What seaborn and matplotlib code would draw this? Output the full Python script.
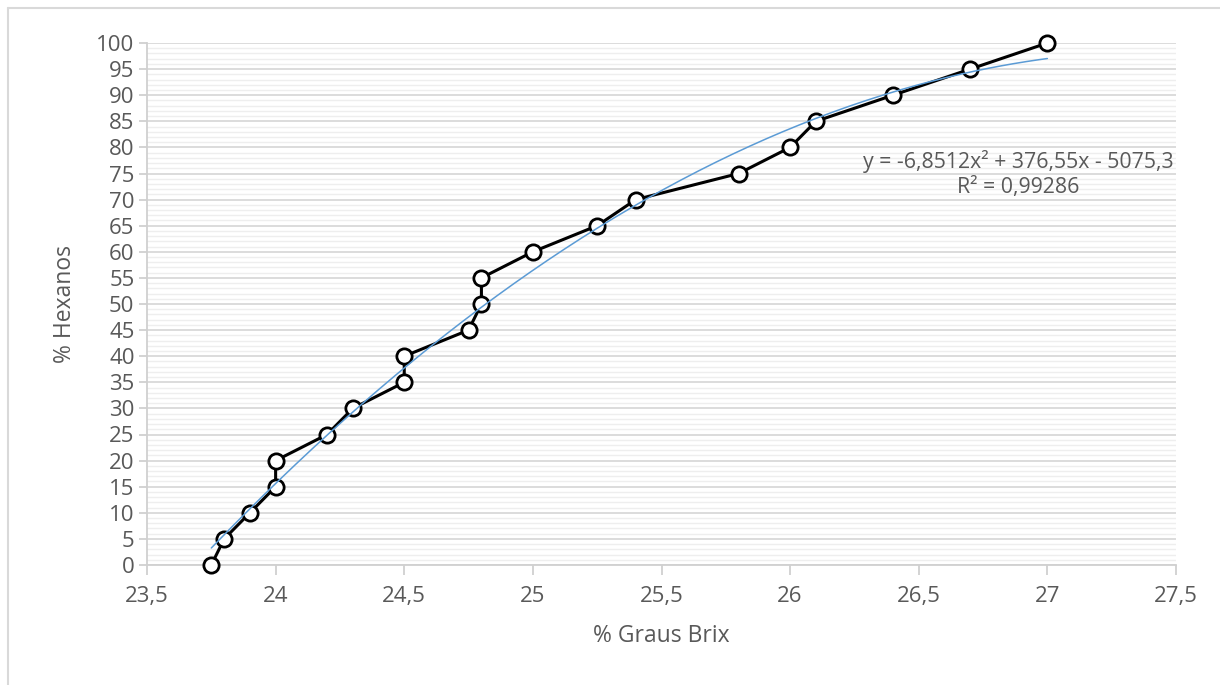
import numpy as np
import pandas as pd
import matplotlib
matplotlib.use("Agg")
import matplotlib.pyplot as plt
from matplotlib.ticker import MultipleLocator, FuncFormatter
from matplotlib.lines import Line2D
import seaborn as sns

# Measured points: sugar content (°Brix) vs. hexane fraction
brix = [23.75, 23.8, 23.9, 24.0, 24.0, 24.2, 24.3, 24.5, 24.5, 24.75, 24.8,
        24.8, 25.0, 25.25, 25.4, 25.8, 26.0, 26.1, 26.4, 26.7, 27.0]
hexanos = [0, 5, 10, 15, 20, 25, 30, 35, 40, 45, 50,
           55, 60, 65, 70, 75, 80, 85, 90, 95, 100]

# Second-order polynomial trend line coefficients
coef_a, coef_b, coef_c = -6.8512, 376.55, -5075.3
r_squared = "0,99286"

x_ticks = [23.5, 24, 24.5, 25, 25.5, 26, 26.5, 27, 27.5]
y_ticks = list(range(0, 101, 5))

sns.set_theme(style="white")
plt.rcParams["font.family"] = ["Open Sans", "DejaVu Sans"]

text_color = "#595959"
grid_major = "#d9d9d9"
grid_minor = "#eeeeee"

df = pd.DataFrame({"brix": brix, "hexanos": hexanos})
xt = np.linspace(min(brix), max(brix), 200)
trend = pd.DataFrame({"brix": xt, "hexanos": coef_a * xt**2 + coef_b * xt + coef_c})

fig = plt.figure(figsize=(12.2, 6.85), dpi=100)
ax = fig.add_axes([147 / 1220, 1 - 565 / 685, (1176 - 147) / 1220, (565 - 43) / 685])

sns.lineplot(data=df, x="brix", y="hexanos", ax=ax, estimator=None, sort=False,
             color="black", linewidth=2.2, marker="o", markersize=11,
             markerfacecolor="white", markeredgecolor="black", markeredgewidth=2,
             zorder=4, clip_on=False)
sns.lineplot(data=trend, x="brix", y="hexanos", ax=ax, estimator=None, sort=False,
             color="#5b9bd5", linewidth=1.1, zorder=5, clip_on=False)

ax.set_xlim(x_ticks[0], x_ticks[-1])
ax.set_ylim(0, 100)
ax.set_xticks(x_ticks)
ax.set_yticks(y_ticks)
ax.yaxis.set_minor_locator(MultipleLocator(1))
ax.xaxis.set_major_formatter(FuncFormatter(lambda v, p: f"{v:g}".replace(".", ",")))

ax.grid(which="major", axis="y", color=grid_major, linewidth=1.3, zorder=1)
ax.grid(which="minor", axis="y", color=grid_minor, linewidth=1.0, zorder=0)
ax.grid(which="both", axis="x", visible=False)
ax.set_axisbelow(True)

for side in ("top", "right"):
    ax.spines[side].set_visible(False)
for side in ("left", "bottom"):
    ax.spines[side].set_color("#d0d0d0")
    ax.spines[side].set_linewidth(1.3)

ax.tick_params(axis="both", which="major", colors="#d0d0d0", labelcolor=text_color,
               labelsize=16, width=1.3)
ax.tick_params(axis="y", which="major", direction="out", length=6, left=True, pad=3)
ax.tick_params(axis="x", which="major", direction="out", length=7, bottom=True, pad=8)
ax.tick_params(axis="y", which="minor", length=0)

ax.set_xlabel("% Graus Brix", fontsize=16.5, color=text_color, labelpad=12)
ax.set_ylabel("% Hexanos", fontsize=16.5, color=text_color, labelpad=14)

eq = (f"y = {coef_a:g}x² + {coef_b:g}x - {abs(coef_c):g}".replace(".", ",")
      + f"\nR² = {r_squared}")
ax.text(1018 / 1220, 1 - 174 / 685, eq, transform=fig.transFigure,
        ha="center", va="center", fontsize=15.3, color=text_color,
        linespacing=1.3, zorder=6)

# Chart area frame (left and top edges)
fig.add_artist(Line2D([8 / 1220, 8 / 1220], [0, 1 - 8 / 685], transform=fig.transFigure,
                      color="#d9d9d9", linewidth=1.5))
fig.add_artist(Line2D([8 / 1220, 1], [1 - 8 / 685, 1 - 8 / 685], transform=fig.transFigure,
                      color="#d9d9d9", linewidth=1.5))

fig.savefig("out.png", dpi=100, facecolor="white")
